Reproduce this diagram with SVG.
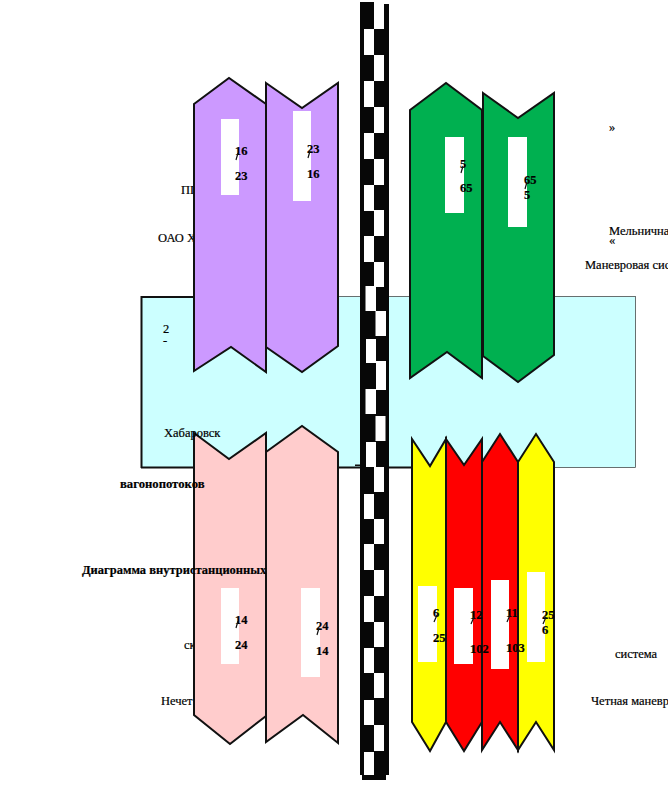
<svg xmlns="http://www.w3.org/2000/svg" width="668" height="788" viewBox="0 0 668 788">
<style>
.s{stroke:#111;stroke-width:2;stroke-linejoin:miter}
.p{fill:#cc99ff}.g{fill:#00b050}.k{fill:#ffcccc}.y{fill:#ffff00}.r{fill:#ff0000}
.w{fill:#fff}
text{font-family:"Liberation Serif","Times New Roman",serif;font-size:12.500px;fill:#000;stroke:#000;stroke-width:0.200}
.b{font-weight:bold;font-size:12.700px}
.d{font-weight:bold;font-size:12.500px}
.n{font-weight:bold;font-size:12.500px}
.sl{stroke:#111;stroke-width:1.200;fill:none}
.c{fill:#070707}
</style>
<g id="band">
<rect x="141.500" y="296.500" width="494" height="171" fill="#ccffff" stroke="#333" stroke-width="0.700"/>
<path d="M141.500 468V297H338M141 467.500H412" fill="none" stroke="#111" stroke-width="2"/>
<text x="163" y="333">2</text>
<text x="163" y="345">-</text>
</g>
<g id="labels-behind">
<text x="181" y="194">ПП</text>
<text x="158" y="242">ОАО Х</text>
<text x="184" y="649">ск</text>
<text x="161" y="705">Нечет</text>
</g>
<g id="track">
<path class="c" d="M360 2H374V4H389V775H386V780H362V775H360Z"/>
<g class="w">
<rect x="374" y="0" width="10" height="29"/>
<rect x="364" y="29" width="10" height="26"/>
<rect x="374" y="55" width="10" height="26"/>
<rect x="364" y="81" width="10" height="26"/>
<rect x="374" y="107" width="10" height="26"/>
<rect x="364" y="133" width="10" height="26"/>
<rect x="374" y="159" width="10" height="26"/>
<rect x="364" y="185" width="10" height="26"/>
<rect x="374" y="210" width="10" height="26"/>
<rect x="364" y="236" width="10" height="26"/>
<rect x="374" y="262" width="10" height="25"/>
<rect x="365.500" y="286" width="10.500" height="25"/>
<rect x="375.500" y="311" width="10.500" height="25"/>
<rect x="366" y="339" width="10" height="24"/>
<rect x="376" y="361" width="10" height="29"/>
<rect x="365.500" y="389" width="10.500" height="25"/>
<rect x="375.500" y="416" width="10" height="25"/>
<rect x="366" y="442" width="10" height="25"/>
<rect x="374" y="467" width="10" height="25"/>
<rect x="364" y="494" width="10" height="25"/>
<rect x="374" y="519" width="10" height="25"/>
<rect x="364" y="544" width="10" height="26"/>
<rect x="374" y="570" width="10" height="26"/>
<rect x="364" y="596" width="10" height="26"/>
<rect x="374" y="622" width="10" height="25"/>
<rect x="364" y="648" width="10" height="25"/>
<rect x="374" y="673" width="10" height="25"/>
<rect x="364" y="700" width="10" height="25"/>
<rect x="374" y="725" width="10" height="26"/>
<rect x="364" y="752" width="10" height="23"/>
</g>
<rect x="355" y="464.500" width="5" height="1.500" fill="#111"/>
</g>
<g id="node-p1">
<path class="s p" d="M194 104L229 78L266 104V372L231 347L194 371Z"/>
<rect class="w" x="221" y="119" width="18" height="76"/>
<text class="n" x="235" y="155">16</text><text class="n" x="235" y="180">23</text>
<path class="sl" d="M238 153L236 160"/>
</g>
<g id="node-p2">
<path class="s p" d="M266 83L302 108L338 83V346L302 372L266 347Z"/>
<rect class="w" x="293" y="111" width="18" height="90"/>
<text class="n" x="307" y="153">23</text><text class="n" x="307" y="178">16</text>
<path class="sl" d="M310 151L308 158"/>
</g>
<g id="node-g1">
<path class="s g" d="M410 110L446 83L482 110V378L447 352L410 378Z"/>
<rect class="w" x="445" y="137" width="19" height="76"/>
<text class="n" x="460" y="168">5</text><text class="n" x="460" y="192">65</text>
<path class="sl" d="M463 166L461 173"/>
</g>
<g id="node-g2">
<path class="s g" d="M483 93L518 118L554 93V355L518 382L483 356Z"/>
<rect class="w" x="508" y="137" width="19" height="90"/>
<text class="n" x="524" y="184">65</text><text class="n" x="524" y="199">5</text>
<path class="sl" d="M527 182L525 189"/>
</g>
<g id="node-k1">
<path class="s k" d="M194 433L229 459L266 433V716L230 744L194 715Z"/>
<rect class="w" x="221" y="588" width="18" height="76"/>
<text class="n" x="235" y="624">14</text><text class="n" x="235" y="649">24</text>
<path class="sl" d="M238 621L236 628"/>
</g>
<g id="node-k2">
<path class="s k" d="M266 452L302 426L338 452V743L303 715L266 742Z"/>
<rect class="w" x="301" y="588" width="19" height="89"/>
<text class="n" x="316" y="630">24</text><text class="n" x="316" y="655">14</text>
<path class="sl" d="M319 628L317 635"/>
</g>
<g id="node-y2">
<path class="s y" d="M518 462L536 434L554 462V750L536 722L518 750Z"/>
<rect class="w" x="527" y="572" width="18" height="90"/>
<text class="n" x="542" y="619">25</text><text class="n" x="542" y="634">6</text>
<path class="sl" d="M546 617L543 624"/>
</g>
<g id="node-r2">
<path class="s r" d="M482 462L500 434L518 462V750L500 722L482 750Z"/>
<rect class="w" x="491" y="580" width="18" height="89"/>
<text class="n" x="506" y="617">11</text><text class="n" x="506" y="652">103</text>
<path class="sl" d="M510 615L507 622"/>
</g>
<g id="node-r1">
<path class="s r" d="M446 439L464 465L482 439V722L464 751L446 722Z"/>
<rect class="w" x="454" y="588" width="19" height="76"/>
<text class="n" x="470" y="619">12</text><text class="n" x="470" y="653">102</text>
<path class="sl" d="M474 617L471 624"/>
</g>
<g id="node-y1">
<path class="s y" d="M412 439L430 466L446 439V722L430 751L412 722Z"/>
<rect class="w" x="418" y="586" width="19" height="76"/>
<text class="n" x="433" y="617">6</text><text class="n" x="433" y="642">25</text>
<path class="sl" d="M437 615L434 622"/>
</g>
<g id="labels">
<text x="164" y="437">Хабаровск</text>
<text class="b" x="120" y="488">вагонопотоков</text>
<text class="d" x="82" y="574">Диаграмма внутристанционных</text>
<text x="609" y="131">»</text>
<text x="609" y="235">Мельнична</text>
<text x="609" y="244">«</text>
<text x="585" y="269">Маневровая сис</text>
<text x="615" y="658">система</text>
<text x="591" y="705">Четная маневр</text>
</g>
</svg>
